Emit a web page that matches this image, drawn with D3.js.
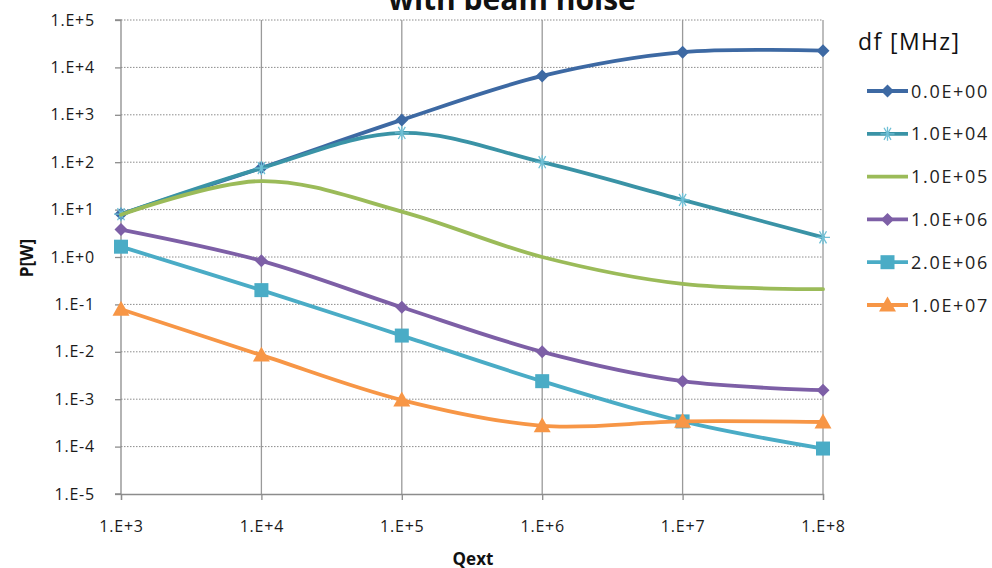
<!DOCTYPE html>
<html>
<head>
<meta charset="utf-8">
<script src="https://cdn.jsdelivr.net/npm/d3@7"></script>
<style>
  html, body { margin: 0; padding: 0; background: #fff; }
  svg { display: block; font-family: "Open Sans", "Noto Sans", sans-serif; }
</style>
</head>
<body>
<svg id="chart" width="992" height="568"></svg>
<script>
// Qext values on the x axis
const qext = [1e3, 1e4, 1e5, 1e6, 1e7, 1e8];

// Power P[W] for each frequency offset df [MHz]
const p_df0    = [8.1, 76, 780, 6600, 21000, 22500];
const p_df1e4  = [8.0, 75, 415, 100, 16, 2.6];
const p_df1e5  = [7.8, 40, 9.1, 1.0, 0.27, 0.21];
const p_df1e6  = [3.8, 0.83, 0.087, 0.010, 0.0024, 0.00155];
const p_df2e6  = [1.65, 0.20, 0.022, 0.0024, 0.00034, 0.000091];
const p_df1e7  = [0.079, 0.0085, 0.00096, 0.000275, 0.00034, 0.00033];

const seriesNames = ["0.0E+00", "1.0E+04", "1.0E+05", "1.0E+06", "2.0E+06", "1.0E+07"];
const seriesColors = ["#3D69A3", "#3A93A6", "#9BBB59", "#7D5FA6", "#4AACC6", "#F79646"];
const seriesMarkers = ["diamond", "star", "none", "diamond", "square", "triangle"];

const yTicks = [1e5, 1e4, 1e3, 1e2, 1e1, 1e0, 1e-1, 1e-2, 1e-3, 1e-4, 1e-5];
const yTickLabels = ["1.E+5", "1.E+4", "1.E+3", "1.E+2", "1.E+1", "1.E+0", "1.E-1", "1.E-2", "1.E-3", "1.E-4", "1.E-5"];
const xTickLabels = ["1.E+3", "1.E+4", "1.E+5", "1.E+6", "1.E+7", "1.E+8"];

const seriesData = [p_df0, p_df1e4, p_df1e5, p_df1e6, p_df2e6, p_df1e7];

const svg = d3.select("#chart");
const plot = { left: 121, right: 823, top: 20, bottom: 494 };

const x = d3.scaleLog().domain([1e3, 1e8]).range([plot.left, plot.right]);
const y = d3.scaleLog().domain([1e-5, 1e5]).range([plot.bottom, plot.top]);

// Title (first line sits above the visible area)
svg.append("text")
  .attr("x", 512).attr("y", 10)
  .attr("text-anchor", "middle")
  .style("font-size", "30px").style("font-weight", "bold").attr("fill", "#111")
  .text("with beam noise");

// Horizontal dotted gridlines
svg.append("g")
  .selectAll("line")
  .data(yTicks.slice(0, -1))
  .join("line")
  .attr("x1", plot.left).attr("x2", plot.right)
  .attr("y1", d => y(d)).attr("y2", d => y(d))
  .attr("stroke", "#8c8c8c").attr("stroke-width", 1)
  .attr("stroke-dasharray", "1.5,1.5");

// Vertical solid gridlines
svg.append("g")
  .selectAll("line")
  .data(qext.slice(1))
  .join("line")
  .attr("x1", d => x(d)).attr("x2", d => x(d))
  .attr("y1", plot.top).attr("y2", plot.bottom)
  .attr("stroke", "#9a9a9a").attr("stroke-width", 1.3);

// Y axis
const yAxis = d3.axisLeft(y)
  .tickValues(yTicks)
  .tickFormat((d, i) => yTickLabels[i])
  .tickSize(6).tickPadding(20);
const gy = svg.append("g").attr("transform", `translate(${plot.left},0)`).call(yAxis);

// X axis
const xAxis = d3.axisBottom(x)
  .tickValues(qext)
  .tickFormat((d, i) => xTickLabels[i])
  .tickSize(6).tickPadding(21);
const gx = svg.append("g").attr("transform", `translate(0,${plot.bottom})`).call(xAxis);

[gx, gy].forEach(g => {
  g.attr("font-size", null).attr("font-family", null);
  g.select(".domain").attr("stroke", "#8c8c8c").attr("stroke-width", 1.3);
  g.selectAll(".tick line").attr("stroke", "#8c8c8c").attr("stroke-width", 1.3);
  g.selectAll(".tick text")
    .style("font-size", "16px").style("letter-spacing", "0.8px")
    .attr("fill", "#1a1a1a");
});
gy.select(".domain").attr("d", `M-6,${plot.top}H0V${plot.bottom}H-6`);

// Axis titles
svg.append("text")
  .attr("x", 473).attr("y", 565)
  .attr("text-anchor", "middle")
  .style("font-size", "17px").style("font-weight", "bold").attr("fill", "#111")
  .text("Qext");

svg.append("text")
  .attr("transform", "translate(33,258) rotate(-90)")
  .attr("text-anchor", "middle")
  .style("font-size", "17px").style("font-weight", "bold").attr("fill", "#111")
  .text("P[W]");

// Marker drawing helper
function drawMarker(g, type, cx, cy, color) {
  if (type === "diamond") {
    const r = 6.5;
    g.append("path")
      .attr("d", `M${cx},${cy - r}L${cx + r},${cy}L${cx},${cy + r}L${cx - r},${cy}Z`)
      .attr("fill", color);
  } else if (type === "square") {
    const s = 14;
    g.append("rect")
      .attr("x", cx - s / 2).attr("y", cy - s / 2)
      .attr("width", s).attr("height", s)
      .attr("fill", color);
  } else if (type === "triangle") {
    const r = 8.5;
    g.append("path")
      .attr("d", `M${cx},${cy - r}L${cx + r},${cy + r * 0.75}L${cx - r},${cy + r * 0.75}Z`)
      .attr("fill", color);
  } else if (type === "star") {
    const r = 7;
    const d = [0, 60, 120].map(a => {
      const t = a * Math.PI / 180;
      return `M${cx - r * Math.cos(t)},${cy - r * Math.sin(t)}L${cx + r * Math.cos(t)},${cy + r * Math.sin(t)}`;
    }).join("") + `M${cx},${cy - r}L${cx},${cy + r}`;
    g.append("path")
      .attr("d", d)
      .attr("stroke", "#6fc0d6").attr("stroke-width", 1.3).attr("fill", "none");
  }
}

// Series lines (smoothed) and markers
const line = d3.line()
  .x((d, i) => x(qext[i]))
  .y(d => y(d))
  .curve(d3.curveCatmullRom.alpha(0.5));

seriesData.forEach((vals, si) => {
  const g = svg.append("g");
  g.append("path")
    .datum(vals)
    .attr("d", line)
    .attr("fill", "none")
    .attr("stroke", seriesColors[si])
    .attr("stroke-width", 3.8)
    .attr("stroke-linejoin", "round")
    .attr("stroke-linecap", "round");
  vals.forEach((v, i) => drawMarker(g, seriesMarkers[si], x(qext[i]), y(v), seriesColors[si]));
});

// Legend
svg.append("text")
  .attr("x", 858).attr("y", 50)
  .style("font-size", "23px").style("letter-spacing", "1.4px").attr("fill", "#111")
  .text("df [MHz]");

seriesNames.forEach((name, i) => {
  const cy = 91 + i * 42.8;
  const g = svg.append("g");
  g.append("line")
    .attr("x1", 867).attr("x2", 908)
    .attr("y1", cy).attr("y2", cy)
    .attr("stroke", seriesColors[i]).attr("stroke-width", 3.8);
  drawMarker(g, seriesMarkers[i], 887.5, cy, seriesColors[i]);
  g.append("text")
    .attr("x", 911).attr("y", cy + 6.5)
    .style("font-size", "18px").style("letter-spacing", "1.7px").attr("fill", "#222")
    .text(name);
});
</script>
</body>
</html>
